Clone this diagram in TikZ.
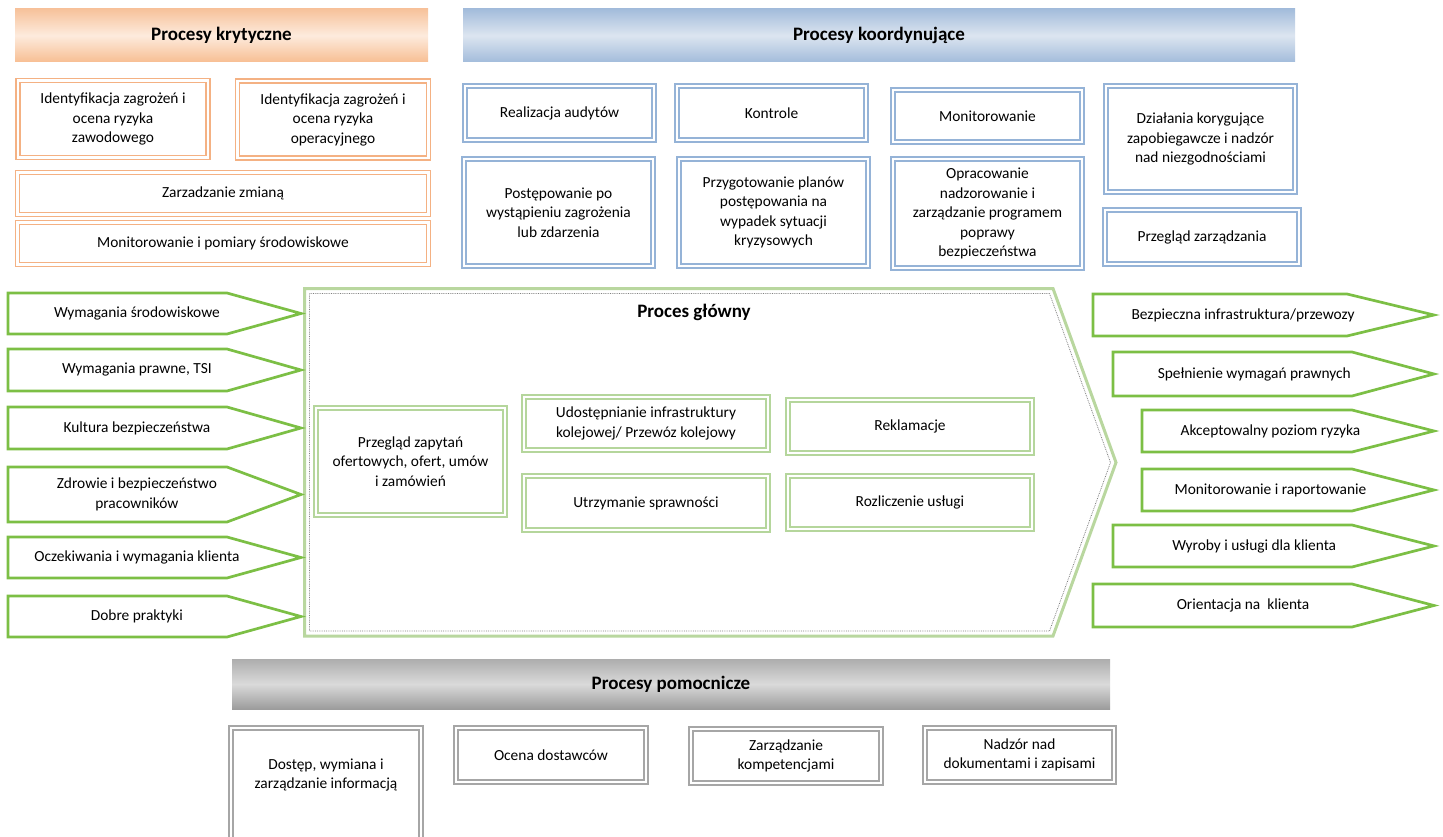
\documentclass[tikz,border=0pt]{standalone}
\usepackage{fontspec}
\setmainfont{Carlito}
\definecolor{orL}{HTML}{F4B183}
\definecolor{blL}{HTML}{95B3D7}
\definecolor{grA}{HTML}{7CBF45}
\definecolor{grL}{HTML}{B5D69C}
\definecolor{grM}{HTML}{B9D79F}
\definecolor{gyL}{HTML}{A6A6A6}
\definecolor{orT}{HTML}{F7C29B}
\definecolor{orM}{HTML}{FDEBDD}
\definecolor{blT}{HTML}{A3BCDB}
\definecolor{blM}{HTML}{DCE5F0}
\definecolor{gyT}{HTML}{ADADAD}
\definecolor{gyM}{HTML}{DADADA}
\newcommand\bodyfont{\fontsize{15.4}{19.5}\selectfont}
\newcommand\hdrfont{\fontsize{19}{23}\selectfont\bfseries}
\tikzset{
  dbox/.style={line width=1.5pt, double=white, double distance=2.4pt, align=center, inner sep=0pt, font=\bodyfont},
  obox/.style={dbox, draw=orL},
  bbox/.style={dbox, draw=blL},
  gbox/.style={dbox, draw=grL},
  ybox/.style={dbox, draw=gyL},
  hdr/.style={inner sep=0pt, font=\hdrfont, minimum height=53pt},
  btext/.style={align=center, inner sep=0pt, font=\bodyfont},
  garrowline/.style={draw=grA, line width=2.7pt, line join=miter, fill=white},
}
% name, left, top, bottom, body end, tip, text
\newcommand\garrow[7]{%
  \draw[garrowline] (#2,#3) -- (#5,#3) -- (#6,{(#3+#4)/2}) -- (#5,#4) -- (#2,#4) -- cycle;
  \node[btext] (#1) at ({#2+0.44*(#6-#2)},{(#3+#4)/2}) {#7};
}
\begin{document}
\begin{tikzpicture}[x=1pt,y=-1pt]
\useasboundingbox (0,0) rectangle (1443,837);

% headers
\node[hdr, top color=orT, bottom color=orT!95!orange, middle color=orM, minimum width=413pt] (hk) at (221.5,35.5) {Procesy krytyczne};
\node[hdr, top color=blT, bottom color=blT, middle color=blM, minimum width=832pt] (hko) at (879,35.5) {Procesy koordynujące};
\node[hdr, top color=gyT, bottom color=gyT!90!black, middle color=gyM, minimum width=878pt, minimum height=50pt] (hp) at (671,684) {Procesy pomocnicze};

% orange boxes
\node[obox, minimum width=190pt, minimum height=77pt] (o1) at (113,119) {Identyfikacja zagrożeń i\\ocena ryzyka\\zawodowego};
\node[obox, minimum width=191pt, minimum height=77pt] (o2) at (333,119.5) {Identyfikacja zagrożeń i\\ocena ryzyka\\operacyjnego};
\node[obox, minimum width=411pt, minimum height=42pt] (o3) at (223,193.5) {Zarzadzanie zmianą};
\node[obox, minimum width=411pt, minimum height=42pt] (o4) at (223,243.5) {Monitorowanie i pomiary środowiskowe};

% blue boxes
\node[bbox, minimum width=189pt, minimum height=54pt] (b1) at (559.5,113) {Realizacja audytów};
\node[bbox, minimum width=189pt, minimum height=54pt] (b2) at (771.5,113) {Kontrole};
\node[bbox, minimum width=189pt, minimum height=52pt] (b3) at (987.5,116) {Monitorowanie};
\node[bbox, minimum width=189pt, minimum height=106pt] (b4) at (1200.5,139) {Działania korygujące\\zapobiegawcze i nadzór\\nad niezgodnościami};
\node[bbox, minimum width=189pt, minimum height=107pt] (b5) at (558.5,212.5) {Postępowanie po\\wystąpieniu zagrożenia\\lub zdarzenia};
\node[bbox, minimum width=189pt, minimum height=107pt] (b6) at (773.5,212.5) {Przygotowanie planów\\postępowania na\\wypadek sytuacji\\kryzysowych};
\node[bbox, minimum width=189pt, minimum height=109pt] (b7) at (987.5,213.5) {Opracowanie\\nadzorowanie i\\zarządzanie programem\\poprawy\\bezpieczeństwa};
\node[bbox, minimum width=194pt, minimum height=54pt] (b8) at (1202,237) {Przegląd zarządzania};

% main chevron
\coordinate (m1) at (304.5,288.5);
\coordinate (m2) at (1053,288.5);
\coordinate (m3) at (1116,462.5);
\coordinate (m4) at (1053,636);
\coordinate (m5) at (304.5,636);
\coordinate (n1) at (309.5,293.5);
\coordinate (n2) at (1049.5,293.5);
\coordinate (n3) at (1110.5,462.5);
\coordinate (n4) at (1049.5,631);
\coordinate (n5) at (309.5,631);
\draw[line width=3pt, grM, line join=miter] (m1) -- (m2) -- (m3) -- (m4) -- (m5) -- cycle;
\draw[line width=0.8pt, gray, densely dotted, line join=miter] (n1) -- (n2) -- (n3) -- (n4) -- (n5) -- cycle;
\node[font=\hdrfont, inner sep=0pt] (pg) at (694,312) {Proces główny};

% green inner boxes
\node[gbox, minimum width=189pt, minimum height=107pt] (g1) at (410.5,461.5) {Przegląd zapytań\\ofertowych, ofert, umów\\i zamówień};
\node[gbox, minimum width=244pt, minimum height=53pt] (g2) at (646,423.5) {Udostępnianie infrastruktury\\kolejowej/ Przewóz kolejowy};
\node[gbox, minimum width=244pt, minimum height=54pt] (g3) at (646,503) {Utrzymanie sprawności};
\node[gbox, minimum width=244pt, minimum height=53pt] (g4) at (910,426.5) {Reklamacje};
\node[gbox, minimum width=244pt, minimum height=53pt] (g5) at (910,502.5) {Rozliczenie usługi};

% left input arrows
\garrow{l1}{8}{293}{334}{227}{301}{Wymagania środowiskowe}
\garrow{l2}{8}{349}{391}{227}{301}{Wymagania prawne, TSI}
\garrow{l3}{8}{407}{449}{227}{301}{Kultura bezpieczeństwa}
\garrow{l4}{8}{467}{522}{227}{301}{Zdrowie i bezpieczeństwo\\pracowników}
\garrow{l5}{8}{537}{578}{227}{301}{Oczekiwania i wymagania klienta}
\garrow{l6}{8}{596}{637}{227}{301}{Dobre praktyki}

% right output arrows
\garrow{r1}{1093}{294}{336}{1347}{1434}{Bezpieczna infrastruktura/przewozy}
\garrow{r2}{1113}{352}{396}{1352}{1434}{Spełnienie wymagań prawnych}
\garrow{r3}{1142}{410}{452}{1352}{1434}{Akceptowalny poziom ryzyka}
\garrow{r4}{1142}{469}{511}{1352}{1434}{Monitorowanie i raportowanie}
\garrow{r5}{1113}{525}{567}{1352}{1434}{Wyroby i usługi dla klienta}
\garrow{r6}{1093}{584}{627}{1352}{1434}{Orientacja na\ \ klienta}

% gray bottom boxes
\node[ybox, minimum width=190pt, minimum height=124pt] (y1) at (326,790) {};
\node[btext] (y1t) at (326,775) {Dostęp, wymiana i\\zarządzanie informacją};
\node[ybox, minimum width=190pt, minimum height=54pt] (y2) at (551,755) {Ocena dostawców};
\node[ybox, minimum width=190pt, minimum height=54pt] (y3) at (786,756) {Zarządzanie\\kompetencjami};
\node[ybox, minimum width=189pt, minimum height=54pt] (y4) at (1019.5,755) {Nadzór nad\\dokumentami i zapisami};
\end{tikzpicture}
\end{document}
